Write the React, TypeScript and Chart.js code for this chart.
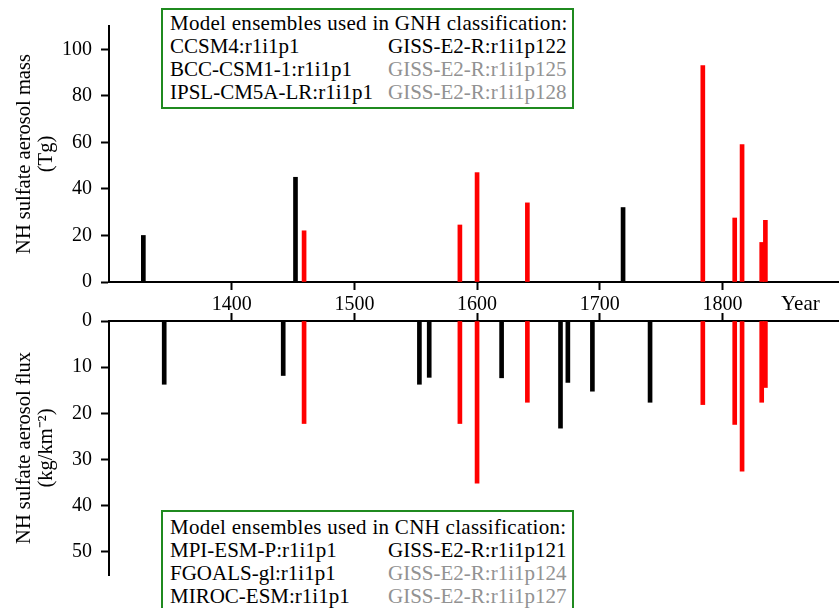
import React, { useEffect, useRef } from "react";
import { Chart, registerables } from "chart.js";

Chart.register(...registerables);

// ---- data ----
const massYearsBlack = [1328, 1452, 1719];
const massValuesBlack = [20, 45, 32];
const massYearsRed = [1459, 1586, 1600, 1641, 1784, 1810, 1816, 1832, 1835];
const massValuesRed = [22, 24.5, 47, 34, 93, 27.5, 59, 17, 26.5];

const fluxYearsBlack = [1345, 1442, 1553, 1561, 1620, 1668, 1674, 1694, 1741];
const fluxValuesBlack = [13.7, 11.8, 13.7, 12.2, 12.3, 23.2, 13.3, 15.2, 17.6];
const fluxYearsRed = [1459, 1586, 1600, 1641, 1784, 1810, 1816, 1832, 1835];
const fluxValuesRed = [22.2, 22.2, 35.1, 17.6, 18.1, 22.4, 32.5, 17.6, 14.4];

const yearTicks = [1400, 1500, 1600, 1700, 1800];
const massTicks = [0, 20, 40, 60, 80, 100];
const fluxTicks = [0, 10, 20, 30, 40, 50];

const gnhTitle = "Model ensembles used in GNH classification:";
const gnhLeft = ["CCSM4:r1i1p1", "BCC-CSM1-1:r1i1p1", "IPSL-CM5A-LR:r1i1p1"];
const gnhRight = ["GISS-E2-R:r1i1p122", "GISS-E2-R:r1i1p125", "GISS-E2-R:r1i1p128"];
const cnhTitle = "Model ensembles used in CNH classification:";
const cnhLeft = ["MPI-ESM-P:r1i1p1", "FGOALS-gl:r1i1p1", "MIROC-ESM:r1i1p1"];
const cnhRight = ["GISS-E2-R:r1i1p121", "GISS-E2-R:r1i1p124", "GISS-E2-R:r1i1p127"];
const rightGray = [false, true, true];

const FAMILY = "'Liberation Serif', 'Times New Roman', serif";

function pts(xs: number[], ys: number[]) {
  return xs.map((x, i) => ({ x, y: ys[i] }));
}

function axisStyle() {
  return {
    grid: { drawOnChartArea: false, tickLength: 8, tickWidth: 2, tickColor: "#000", offset: false },
    border: { color: "#000", width: 2 },
  };
}

function makeOptions(kind: "top" | "bottom"): any {
  const isTop = kind === "top";
  return {
    animation: false,
    responsive: false,
    events: [],
    layout: { padding: isTop ? { top: 26, left: 0, right: 0, bottom: 0 } : { top: 0, left: 0, right: 0, bottom: 33 } },
    plugins: { legend: { display: false }, tooltip: { enabled: false } },
    scales: {
      x: {
        type: "linear",
        position: isTop ? "bottom" : "top",
        min: 1300,
        max: 1895,
        offset: false,
        afterBuildTicks: (s: any) => {
          s.ticks = yearTicks.map((v) => ({ value: v }));
        },
        afterFit: (s: any) => {
          s.height = isTop ? 30 : 20;
        },
        ...axisStyle(),
        ticks: {
          display: isTop,
          color: "#000",
          font: { family: FAMILY, size: 20 },
          padding: 3,
          maxRotation: 0,
          autoSkip: false,
          callback: (v: any) => String(v),
        },
      },
      y: {
        type: "linear",
        min: 0,
        max: isTop ? 110 : 55,
        reverse: !isTop,
        afterBuildTicks: (s: any) => {
          s.ticks = (isTop ? massTicks : fluxTicks).map((v) => ({ value: v }));
        },
        afterFit: (s: any) => {
          s.width = 109;
        },
        ...axisStyle(),
        ticks: {
          color: "#000",
          font: { family: FAMILY, size: 20 },
          padding: 9,
          callback: (v: any) => String(v),
        },
        title: {
          display: true,
          text: isTop ? ["NH sulfate aerosol mass", "(Tg)"] : ["NH sulfate aerosol flux", "(kg/km\u207B\u00B2)"],
          color: "#000",
          font: { family: FAMILY, size: 20.5, lineHeight: 1.05 },
          padding: { top: 14, bottom: 0 },
        },
      },
    },
  };
}

function makeData(xb: number[], yb: number[], xr: number[], yr: number[]) {
  return {
    datasets: [
      { data: pts(xb, yb), backgroundColor: "#000000", borderWidth: 0, barThickness: 4, grouped: false },
      { data: pts(xr, yr), backgroundColor: "#ff0000", borderWidth: 0, barThickness: 4, grouped: false },
    ],
  };
}

function InfoBox(props: { top: number; height: number; padTop: number; title: string; left: string[]; right: string[] }) {
  const { top, height, padTop, title, left, right } = props;
  return (
    <div
      style={{
        position: "absolute",
        left: 161,
        top,
        width: 413,
        height,
        boxSizing: "border-box",
        border: "2px solid #1f8a1f",
        background: "#fff",
        fontFamily: FAMILY,
        fontSize: 21,
        lineHeight: "23px",
        color: "#000",
        paddingTop: padTop,
        paddingLeft: 7,
        whiteSpace: "nowrap",
        overflow: "hidden",
      }}
    >
      <div style={{ letterSpacing: "0.28px" }}>{title}</div>
      {left.map((l, i) => (
        <div key={i} style={{ position: "relative", height: 23 }}>
          <span style={{ position: "absolute", left: 0 }}>{l}</span>
          <span style={{ position: "absolute", left: 218, color: rightGray[i] ? "#929292" : "#000" }}>{right[i]}</span>
        </div>
      ))}
    </div>
  );
}

export default function App() {
  const topRef = useRef<HTMLCanvasElement | null>(null);
  const botRef = useRef<HTMLCanvasElement | null>(null);

  useEffect(() => {
    let c1: Chart | null = null;
    let c2: Chart | null = null;
    let cancelled = false;
    const build = () => {
      if (cancelled) return;
      c1 = new Chart(topRef.current as HTMLCanvasElement, {
        type: "bar",
        data: makeData(massYearsBlack, massValuesBlack, massYearsRed, massValuesRed) as any,
        options: makeOptions("top"),
      });
      c2 = new Chart(botRef.current as HTMLCanvasElement, {
        type: "bar",
        data: makeData(fluxYearsBlack, fluxValuesBlack, fluxYearsRed, fluxValuesRed) as any,
        options: makeOptions("bottom"),
      });
    };
    const fonts: any = (document as any).fonts;
    if (fonts && fonts.load) {
      Promise.all([fonts.load("20px 'Liberation Serif'"), fonts.load("21px 'Liberation Serif'")])
        .catch(() => null)
        .then(build);
    } else {
      build();
    }
    return () => {
      cancelled = true;
      if (c1) c1.destroy();
      if (c2) c2.destroy();
    };
  }, []);

  return (
    <div style={{ position: "absolute", left: 0, top: 0, width: 839, height: 608, background: "#fff", overflow: "hidden" }}>
      <canvas ref={topRef} width={839} height={312} style={{ position: "absolute", left: 0, top: 0, width: 839, height: 312 }} />
      <canvas ref={botRef} width={839} height={308} style={{ position: "absolute", left: 0, top: 300, width: 839, height: 308 }} />
      <div
        style={{
          position: "absolute",
          left: 781,
          top: 291,
          fontFamily: FAMILY,
          fontSize: 21,
          lineHeight: "24px",
          color: "#000",
        }}
      >
        Year
      </div>
      <InfoBox top={8} height={101} padTop={2} title={gnhTitle} left={gnhLeft} right={gnhRight} />
      <InfoBox top={510} height={120} padTop={4} title={cnhTitle} left={cnhLeft} right={cnhRight} />
    </div>
  );
}
